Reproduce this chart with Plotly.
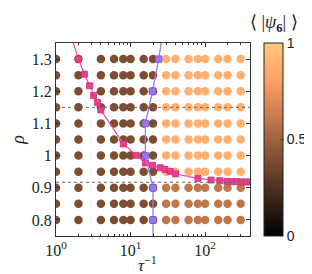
import plotly.graph_objects as go
import numpy as np

# ---- data ----
tau_inv = [1, 2, 4, 6, 8, 10, 15, 20, 30, 40, 60, 80, 100, 150, 200, 300]
rho = [0.8, 0.85, 0.9, 0.95, 1.0, 1.05, 1.1, 1.15, 1.2, 1.25, 1.3]
# <|psi6|> per row of rho (each row over tau_inv)
psi_low = [0.39] * 8 + [0.6] * 8      # rows rho <= 0.9
psi_high = [0.39] * 8 + [0.88] * 8    # rows rho >= 0.95
psi6 = [psi_low, psi_low, psi_low] + [psi_high] * 8

pink_x = [2, 2.41, 2.82, 3.19, 3.6, 3.99, 8.06, 11.9, 15.8, 19.7, 25, 29, 34, 40,
          80, 120, 157, 196, 229, 267, 312, 353, 400]
pink_y = [1.3, 1.253, 1.217, 1.187, 1.165, 1.142, 1.036, 1.001, 0.977, 0.970,
          0.962, 0.957, 0.951, 0.943, 0.929, 0.924, 0.922, 0.920, 0.919, 0.919,
          0.918, 0.918, 0.918]
pink_line_x = [1.6] + pink_x
pink_line_y = [1.37] + pink_y

purple_x = [23.8, 19.7, 15.8, 15.8, 20, 20]
purple_y = [1.3, 1.2, 1.1, 1.0, 0.9, 0.8]
purple_line_x = [26.2] + purple_x + [20]
purple_line_y = [1.36] + purple_y + [0.74]

ref_levels = [1.15, 0.917]

x_ticks = [1, 10, 100]
x_ticktext = ["10<sup>0</sup>", "10<sup>1</sup>", "10<sup>2</sup>"]
y_ticks = [0.8, 0.9, 1.0, 1.1, 1.2, 1.3]
y_ticktext = ["0.8", "0.9", "1", "1.1", "1.2", "1.3"]
minor_x = [v * d for d in (1, 10, 100) for v in range(2, 10) if v * d <= 400]

# copper colormap
def copper(v):
    r = min(1.0, 1.25 * v); g = 0.7812 * v; b = 0.4975 * v
    return f"rgb({int(r*255)},{int(g*255)},{int(b*255)})"
copper_scale = [[s, copper(s)] for s in np.linspace(0, 1, 11)]

gx, gy, gc = [], [], []
for i, r in enumerate(rho):
    for j, t in enumerate(tau_inv):
        gx.append(t); gy.append(r); gc.append(psi6[i][j])

serif = "Liberation Serif"
fig = go.Figure()
fig.add_trace(go.Scatter(
    x=gx, y=gy, mode="markers",
    marker=dict(size=8.5, color=gc, colorscale=copper_scale, cmin=0, cmax=1,
                line=dict(width=0),
                colorbar=dict(x=1.072, xanchor="left", y=0.5, yanchor="middle",
                              len=1.0, lenmode="fraction", ypad=0, xpad=0, thickness=19,
                              thicknessmode="pixels", outlinewidth=1, outlinecolor="#222",
                              tickvals=[0, 0.5, 1], ticktext=["0", "0.5", "1"],
                              ticks="inside", ticklen=3, tickcolor="#444",
                              tickfont=dict(family="Liberation Sans", size=14, color="#222"))),
    showlegend=False, hoverinfo="skip"))

fig.add_trace(go.Scatter(x=pink_line_x, y=pink_line_y, mode="lines",
                         line=dict(color="#ff4fa3", width=1.3), showlegend=False))
fig.add_trace(go.Scatter(x=pink_x, y=pink_y, mode="markers",
                         marker=dict(symbol="square", size=6, color="#ee3f8f",
                                     line=dict(color="#d42a78", width=0.8)),
                         showlegend=False))
fig.add_trace(go.Scatter(x=purple_line_x, y=purple_line_y, mode="lines",
                         line=dict(color="#9b7cf5", width=1.3), showlegend=False))
fig.add_trace(go.Scatter(x=purple_x, y=purple_y, mode="markers",
                         marker=dict(symbol="square", size=6.5, color="#9a78f0",
                                     line=dict(color="#7a55e0", width=0.8)),
                         showlegend=False))

for lv in ref_levels:
    fig.add_shape(type="line", xref="paper", x0=0, x1=1, yref="y", y0=lv, y1=lv,
                  line=dict(color="#666", width=1, dash="dot"), layer="above")

fig.add_annotation(text="⟨ |<i>ψ</i><sub><b>6</b></sub>| ⟩", xref="paper", yref="paper",
                   x=1.124, y=1.10, xanchor="center", yanchor="middle", showarrow=False,
                   font=dict(family=serif, size=18, color="#222"))
# axis titles
fig.add_annotation(text="<i>τ</i><sup>−1</sup>", xref="paper", yref="paper",
                   x=0.47, y=-0.145, xanchor="center", yanchor="middle", showarrow=False,
                   font=dict(family=serif, size=17, color="#222"))
fig.add_annotation(text="<i>ρ</i>", xref="paper", yref="paper", textangle=-90,
                   x=-0.2, y=0.5, xanchor="center", yanchor="middle", showarrow=False,
                   font=dict(family=serif, size=18, color="#222"))

axis_common = dict(showline=True, mirror="ticks", linecolor="#333", linewidth=1,
                   ticks="inside", ticklen=4, tickcolor="#333", showgrid=False,
                   zeroline=False, tickfont=dict(family=serif, size=16, color="#222"))
fig.update_xaxes(type="log", range=[0, np.log10(400)], tickvals=x_ticks, ticktext=x_ticktext,
                 minor=dict(tickvals=minor_x, ticks="inside", ticklen=2, tickcolor="#333"),
                 automargin=False, **axis_common)
fig.update_yaxes(range=[0.75, 1.35], tickvals=y_ticks, ticktext=y_ticktext,
                 automargin=False, **axis_common)

fig.update_layout(width=312, height=274,
                  margin=dict(l=48, r=70, t=35, b=46, autoexpand=False),
                  plot_bgcolor="white", paper_bgcolor="white")
fig.write_html("out.html")
